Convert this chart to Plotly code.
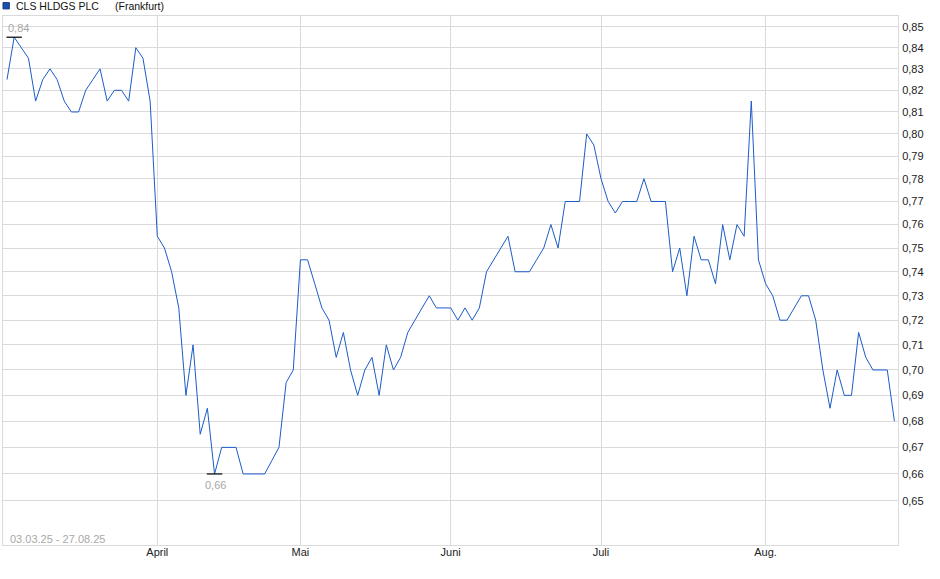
import numpy as np
import pandas as pd
import plotly.graph_objects as go

# Trading days at Frankfurt (Good Friday, Easter Monday and 1 May closed)
holidays = ["2025-04-18", "2025-04-21", "2025-05-01"]
dates = [d.strftime("%Y-%m-%d") for d in pd.bdate_range("2025-03-03", "2025-08-27")
         if d.strftime("%Y-%m-%d") not in holidays]

# Closing prices (EUR)
prices = [
    # March
    0.825, 0.845, 0.84, 0.835, 0.815, 0.825, 0.83, 0.825, 0.815, 0.81,
    0.81, 0.82, 0.825, 0.83, 0.815, 0.82, 0.82, 0.815, 0.84, 0.835, 0.815,
    # April
    0.755, 0.75, 0.74, 0.725, 0.69, 0.71, 0.675, 0.685, 0.66, 0.67,
    0.67, 0.67, 0.66, 0.66, 0.66, 0.66, 0.665, 0.67, 0.695, 0.70,
    # May
    0.745, 0.745, 0.735, 0.725, 0.72, 0.705, 0.715, 0.70, 0.69, 0.70,
    0.705, 0.69, 0.71, 0.70, 0.705, 0.715, 0.72, 0.725, 0.73, 0.725, 0.725,
    # June
    0.725, 0.72, 0.725, 0.72, 0.725, 0.74, 0.745, 0.75, 0.755, 0.74,
    0.74, 0.74, 0.745, 0.75, 0.76, 0.75, 0.77, 0.77, 0.77, 0.80, 0.795,
    # July
    0.78, 0.77, 0.765, 0.77, 0.77, 0.77, 0.78, 0.77, 0.77, 0.77,
    0.74, 0.75, 0.73, 0.755, 0.745, 0.745, 0.735, 0.76, 0.745, 0.76,
    0.755, 0.815, 0.745,
    # August
    0.735, 0.73, 0.72, 0.72, 0.725, 0.73, 0.73, 0.72, 0.70, 0.685,
    0.70, 0.69, 0.69, 0.715, 0.705, 0.70, 0.70, 0.70, 0.68,
]

month_ticks = ["2025-04-01", "2025-05-02", "2025-06-02", "2025-07-01", "2025-08-01"]
month_labels = ["April", "Mai", "Juni", "Juli", "Aug."]
y_ticks = [round(0.65 + 0.01 * k, 2) for k in range(21)]

max_label = "0,84"
min_label = "0,66"
title_name = "CLS HLDGS PLC"
title_place = "(Frankfurt)"
period_text = "03.03.25 - 27.08.25"

font = "Liberation Sans, Arial, sans-serif"
grid = "#dadada"

i_max = int(np.argmax(prices))
i_min = int(np.argmin(prices))

fig = go.Figure()
fig.add_trace(go.Scatter(
    x=dates, y=prices, mode="lines",
    line=dict(color="#1c5cc8", width=1),
    name=title_name, hoverinfo="x+y",
))
# small black bars on the high and low
fig.add_trace(go.Scatter(
    x=[dates[i_max], dates[i_min]], y=[prices[i_max], prices[i_min]],
    mode="markers",
    marker=dict(symbol="line-ew", size=11, line=dict(color="black", width=1.2)),
    hoverinfo="skip",
))

fig.add_annotation(x=dates[i_max], y=np.log10(prices[i_max]), text=max_label,
                   showarrow=False, xshift=4, yshift=9,
                   font=dict(family=font, size=11, color="#a8a8a8"))
fig.add_annotation(x=dates[i_min], y=np.log10(prices[i_min]), text=min_label,
                   showarrow=False, xshift=1, yshift=-11,
                   font=dict(family=font, size=11, color="#a8a8a8"))

# legend-like header
fig.add_shape(type="rect", xref="paper", yref="paper",
              x0=0.0, x1=0.0071, y0=1.0134, y1=1.0253,
              fillcolor="#1a4fae", line=dict(color="#123a80", width=1))
fig.add_annotation(xref="paper", yref="paper", x=0.0123, y=1.0195,
                   xanchor="left", yanchor="middle", showarrow=False,
                   text=title_name, font=dict(family=font, size=10.5, color="#111111"))
fig.add_annotation(xref="paper", yref="paper", x=0.1229, y=1.0195,
                   xanchor="left", yanchor="middle", showarrow=False,
                   text=title_place, font=dict(family=font, size=10.5, color="#111111"))
fig.add_annotation(xref="paper", yref="paper", x=0.0056, y=0.0108,
                   xanchor="left", yanchor="middle", showarrow=False,
                   text=period_text, font=dict(family=font, size=11, color="#a8a8a8"))

fig.update_layout(
    width=940, height=579,
    margin=dict(l=3, r=42, t=16, b=34),
    paper_bgcolor="white", plot_bgcolor="white",
    separators=",.",
    showlegend=False,
    font=dict(family=font, size=11, color="#222222"),
    xaxis=dict(
        type="category",
        range=[-0.56, 124.5],
        tickmode="array", tickvals=month_ticks, ticktext=month_labels,
        showgrid=True, gridcolor=grid, gridwidth=1,
        showline=True, linecolor=grid, linewidth=1, mirror=True,
        ticks="", ticklabelstandoff=-3,
        tickfont=dict(family=font, size=11, color="#222222"),
        zeroline=False,
    ),
    yaxis=dict(
        type="log", side="right",
        range=[np.log10(0.634), np.log10(0.8552)],
        tickmode="array", tickvals=y_ticks, tickformat=".2f",
        showgrid=True, gridcolor=grid, gridwidth=1,
        showline=True, linecolor=grid, linewidth=1, mirror=True,
        ticks="", ticklabelstandoff=1,
        tickfont=dict(family=font, size=11, color="#222222"),
        zeroline=False,
    ),
)

fig.write_html("out.html", config={"displayModeBar": False},
               post_script="document.body.style.margin='0px';")
